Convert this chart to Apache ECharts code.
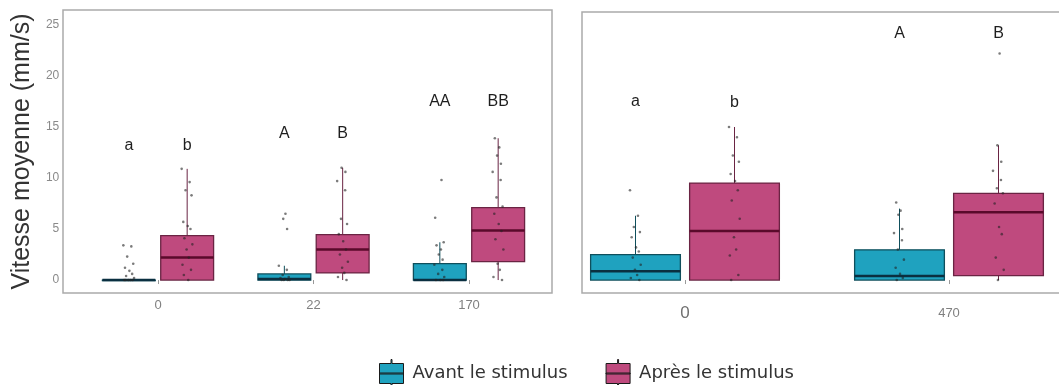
<!DOCTYPE html>
<html><head><meta charset="utf-8">
<script src="https://cdn.jsdelivr.net/npm/echarts@6/dist/echarts.min.js"></script>
<style>html,body{margin:0;padding:0;background:#fff}#c{width:1059px;height:385px}</style>
</head><body><div id="c"></div><script>
// ---------- data ----------
const leftCategories = ['0', '22', '170'];
const rightCategories = ['0', '470'];
const yTickLabels = ['0', '5', '10', '15', '20', '25'];
const seriesNames = ['Avant le stimulus', 'Après le stimulus'];

// box statistics: [min, Q1, median, Q3, max]
const leftAvantBox = [[0, 0, 0, 0, 0], [0, 0, 0.1, 0.6, 1.4], [0, 0, 0, 1.6, 3.7]];
const leftApresBox = [[0, 0, 2.2, 4.35, 10.9], [0, 0.7, 3.0, 4.45, 11.0], [0, 1.8, 4.85, 7.1, 13.9]];
const rightAvantBox = [[0, 0, 0.86, 2.5, 6.3], [0, 0, 0.4, 2.96, 7.0]];
const rightApresBox = [[0, 0, 4.8, 9.5, 15.0], [0, 0.44, 6.65, 8.5, 13.2]];

// individual observations (jittered dots)
const leftAvantPoints = [
  [3.4, 3.3, 2.3, 1.6, 1.2, 0.9, 0.6, 0.4, 0.2, 0, 0, 0, 0, 0],
  [6.5, 6.0, 5.0, 1.4, 1.0, 0.5, 0.3, 0.2, 0.1, 0, 0, 0, 0],
  [9.8, 6.1, 3.7, 3.4, 3.0, 2.5, 2.0, 1.5, 1.0, 0.6, 0.3, 0, 0, 0]
];
const leftApresPoints = [
  [10.9, 9.6, 8.8, 8.3, 5.7, 5.3, 5.0, 4.1, 3.5, 3.0, 2.2, 1.5, 1.0, 0.5, 0],
  [11.0, 10.6, 9.7, 8.8, 6.0, 5.5, 4.5, 3.8, 3.0, 2.5, 1.8, 1.2, 0.7, 0.3, 0],
  [13.9, 13.0, 12.2, 11.4, 10.6, 9.8, 8.1, 7.2, 6.5, 5.5, 4.8, 4.0, 3.0, 1.6, 1.0, 0.3, 0]
];
const rightAvantPoints = [
  [8.8, 6.3, 5.2, 4.7, 4.2, 3.2, 2.8, 2.2, 1.5, 1.0, 0.5, 0.2, 0],
  [7.6, 6.8, 6.4, 5.0, 4.6, 3.9, 3.0, 2.0, 1.2, 0.6, 0.2, 0]
];
const rightApresPoints = [
  [15.0, 14.0, 12.2, 11.6, 10.4, 9.7, 8.8, 7.8, 6.0, 4.2, 3.0, 2.4, 0.5, 0],
  [22.2, 13.2, 11.6, 10.7, 9.8, 9.0, 8.5, 7.5, 5.2, 4.5, 2.2, 1.0, 0]
];

// significance letters
const leftLettersAvant = ['a', 'A', 'AA'];
const leftLettersApres = ['b', 'B', 'BB'];
const leftLetterY = [13.2, 14.4, 17.45];
const rightLettersAvant = ['a', 'A'];
const rightLettersApres = ['b', 'B'];
const rightLetterYAvant = [17.5, 24.2];
const rightLetterYApres = [17.35, 24.2];

// ---------- style ----------
const TEAL = '#1fa2bf', TEAL_DARK = '#0f4f5c', TEAL_MED = '#0a2f40';
const PINK = '#bf4a7e', PINK_DARK = '#6a2443', PINK_MED = '#5a0a2b';
const DODGE = 0.1875, BOX_FRAC = 0.34, JITTER_PX = 5.5;
const JITTER = [-1, 0.45, -0.3, 0.8, -0.7, 0.1, 0.6, -0.5, 0.95, -0.1, 0.3, -0.85, 0.7, -0.6, 0.2, -0.2, 0.5];

function boxRender(side, fill, stroke, med) {
  return function (params, api) {
    const ci = api.value(0);
    const band = api.size([1, 0])[0];
    const cx = api.coord([ci, 0])[0] + side * DODGE * band;
    const w = BOX_FRAC * band;
    const y = k => api.coord([ci, api.value(k)])[1];
    const yMin = y(1), yQ1 = y(2), yMed = y(3), yQ3 = y(4), yMax = y(5);
    return { type: 'group', children: [
      { type: 'line', shape: { x1: cx, y1: yQ3, x2: cx, y2: yMax }, style: { stroke: stroke, lineWidth: 1 } },
      { type: 'line', shape: { x1: cx, y1: yQ1, x2: cx, y2: yMin }, style: { stroke: stroke, lineWidth: 1 } },
      { type: 'rect', shape: { x: cx - w / 2, y: yQ3, width: w, height: Math.max(yQ1 - yQ3, 0.5) }, style: { fill: fill, stroke: stroke, lineWidth: 1.3 } },
      { type: 'line', shape: { x1: cx - w / 2, y1: yMed, x2: cx + w / 2, y2: yMed }, style: { stroke: med, lineWidth: 2.5 } }
    ]};
  };
}
function pointRender(side) {
  return function (params, api) {
    const ci = api.value(0);
    const band = api.size([1, 0])[0];
    const p = api.coord([ci, api.value(1)]);
    const cx = p[0] + side * DODGE * band + JITTER[params.dataIndex % JITTER.length] * JITTER_PX;
    return { type: 'circle', shape: { cx: cx, cy: p[1], r: 1.3 }, style: { fill: 'rgba(35,35,35,0.6)' } };
  };
}
function letterRender(side, letters) {
  return function (params, api) {
    const ci = api.value(0);
    const band = api.size([1, 0])[0];
    const p = api.coord([ci, api.value(1)]);
    return { type: 'text', x: p[0] + side * DODGE * band, y: p[1],
      style: { text: letters[params.dataIndex], fill: '#1e1e1e', font: '16px "Liberation Sans", Arial, sans-serif', align: 'center', verticalAlign: 'middle' } };
  };
}
const toBoxData = arr => arr.map((s, i) => [i].concat(s));
const toPointData = arr => arr.flatMap((vals, i) => vals.map(v => [i, v]));
const toLetterData = ys => ys.map((v, i) => [i, v]);

function panelSeries(axisIdx, avBox, apBox, avPts, apPts, avL, apL, avY, apY) {
  const base = { type: 'custom', xAxisIndex: axisIdx, yAxisIndex: axisIdx, animation: false };
  return [
    Object.assign({}, base, { name: seriesNames[0], renderItem: boxRender(-1, TEAL, TEAL_DARK, TEAL_MED), data: toBoxData(avBox), itemStyle: { color: TEAL }, z: 2 }),
    Object.assign({}, base, { name: seriesNames[1], renderItem: boxRender(1, PINK, PINK_DARK, PINK_MED), data: toBoxData(apBox), itemStyle: { color: PINK }, z: 2 }),
    Object.assign({}, base, { renderItem: pointRender(-1), data: toPointData(avPts), z: 3, silent: true }),
    Object.assign({}, base, { renderItem: pointRender(1), data: toPointData(apPts), z: 3, silent: true }),
    Object.assign({}, base, { renderItem: letterRender(-1, avL), data: toLetterData(avY), z: 4, silent: true }),
    Object.assign({}, base, { renderItem: letterRender(1, apL), data: toLetterData(apY), z: 4, silent: true })
  ];
}

const legendIcon = 'path://M11.5,0h1v4h11.5v20h-11.5v4h-1v-4h-11.5v-20h11.5z M0,13.5h24v1h-24z';
const labelFont = '"Liberation Sans Narrow", "Liberation Sans", sans-serif';

const option = {
  animation: false,
  backgroundColor: '#fff',
  grid: [
    { left: 63, top: 10, width: 489, height: 283, show: true, borderColor: '#aaaaaa', borderWidth: 1.5, backgroundColor: 'transparent', outerBoundsMode: 'none' },
    { left: 582, top: 12, width: 482, height: 281, show: true, borderColor: '#aaaaaa', borderWidth: 1.5, backgroundColor: 'transparent', outerBoundsMode: 'none' },
    { left: 80.25, top: 10, width: 466.5, height: 283, outerBoundsMode: 'none' },
    { left: 553, top: 12, width: 528, height: 281, outerBoundsMode: 'none' }
  ],
  xAxis: [
    { type: 'category', gridIndex: 2, data: leftCategories, boundaryGap: true,
      axisLine: { show: false }, axisTick: { show: true, alignWithLabel: true, length: 4, lineStyle: { color: '#999' } },
      axisLabel: { color: '#808080', fontSize: 13, margin: 6, fontFamily: labelFont }, splitLine: { show: false } },
    { type: 'category', gridIndex: 3, data: rightCategories, boundaryGap: true,
      axisLine: { show: false }, axisTick: { show: true, alignWithLabel: true, length: 4, lineStyle: { color: '#999' } },
      axisLabel: { color: '#808080', margin: 10, fontFamily: labelFont,
        formatter: v => (v === rightCategories[0] ? '{big|' + v + '}' : '{small|' + v + '}'),
        rich: { big: { fontSize: 17, lineHeight: 20, color: '#707070', fontFamily: '"Liberation Sans", sans-serif' },
                small: { fontSize: 13, lineHeight: 20, color: '#808080', fontFamily: labelFont } } },
      splitLine: { show: false } }
  ],
  yAxis: [
    { type: 'value', gridIndex: 2, min: -1.27, max: 26.47, offset: 17,
      axisLine: { show: false }, axisTick: { show: false }, splitLine: { show: false },
      axisLabel: { color: '#8a8a8a', fontSize: 12, margin: 4, fontFamily: labelFont, showMinLabel: false, showMaxLabel: false,
        formatter: v => (yTickLabels.indexOf(String(v)) >= 0 ? String(v) : '') },
      name: 'Vitesse moyenne (mm/s)', nameLocation: 'middle', nameRotate: 90, nameGap: 29,
      nameTextStyle: { fontSize: 25, color: '#333', fontFamily: '"Liberation Sans", Arial, sans-serif' } },
    { type: 'value', gridIndex: 3, min: -1.27, max: 26.27, show: false, splitLine: { show: false } }
  ],
  legend: {
    left: 374, top: 354, itemWidth: 24, itemHeight: 28, itemGap: 38,
    textStyle: { fontSize: 18, color: '#333', fontFamily: '"DejaVu Sans", sans-serif', padding: [0, 0, 0, 4] },
    data: [
      { name: seriesNames[0], icon: legendIcon, itemStyle: { color: TEAL, borderColor: '#1a1a1a', borderWidth: 1 } },
      { name: seriesNames[1], icon: legendIcon, itemStyle: { color: PINK, borderColor: '#1a1a1a', borderWidth: 1 } }
    ]
  },
  series: [].concat(
    panelSeries(0, leftAvantBox, leftApresBox, leftAvantPoints, leftApresPoints, leftLettersAvant, leftLettersApres, leftLetterY, leftLetterY),
    panelSeries(1, rightAvantBox, rightApresBox, rightAvantPoints, rightApresPoints, rightLettersAvant, rightLettersApres, rightLetterYAvant, rightLetterYApres)
  )
};
const chart = echarts.init(document.getElementById('c'), null, { renderer: 'canvas' });
chart.setOption(option);
</script></body></html>
